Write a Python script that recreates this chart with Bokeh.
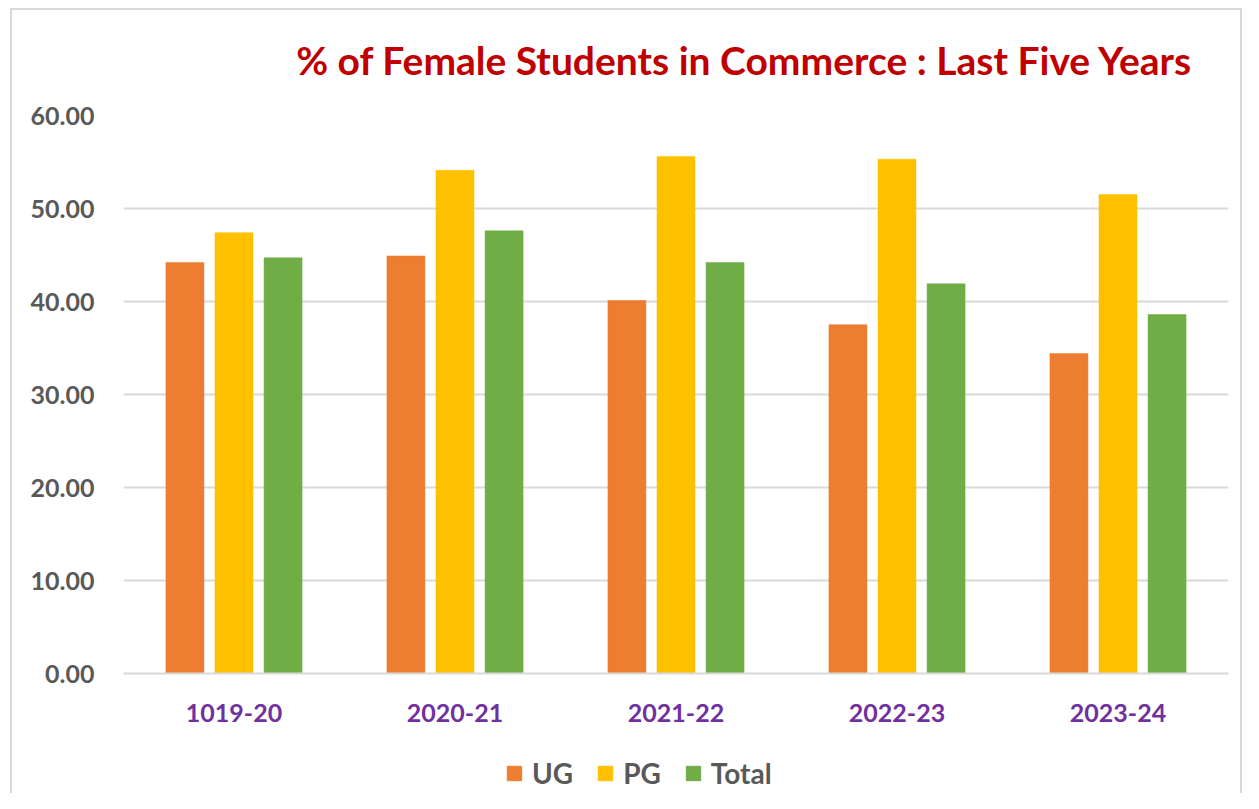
from bokeh.plotting import figure
from bokeh.models import ColumnDataSource, FactorRange, Legend, LegendItem, NumeralTickFormatter, FixedTicker, InlineStyleSheet
from bokeh.layouts import column
from bokeh.transform import dodge
from bokeh.embed import file_html
from bokeh.resources import INLINE

years = ["1019-20", "2020-21", "2021-22", "2022-23", "2023-24"]
ug = [44.2, 44.9, 40.1, 37.5, 34.4]
pg = [47.4, 54.1, 55.6, 55.3, 51.5]
total = [44.7, 47.6, 44.2, 41.9, 38.6]
series_names = ["UG", "PG", "Total"]
colors = ["#ED7D31", "#FFC000", "#70AD47"]
y_ticks = [0, 10, 20, 30, 40, 50, 60]
title_text = "% of Female Students in Commerce : Last Five Years"

FONT = "Lato"
W = 1243

src = ColumnDataSource(dict(year=years, UG=ug, PG=pg, Total=total))

p = figure(x_range=FactorRange(*years), y_range=(0, 60),
           width=W, height=730, output_backend="svg", toolbar_location=None,
           min_border_left=123, min_border_right=15, min_border_top=115, min_border_bottom=57)
p.outline_line_color = None
p.background_fill_color = "white"
p.border_fill_color = "white"

p.title.text = title_text
p.title.align = "right"
p.title.offset = 35
p.title.standoff = 66
p.title.text_font = FONT
p.title.text_font_style = "bold"
p.title.text_font_size = "39px"
p.title.text_color = "#C00000"

renderers = []
offsets = [-0.222, 0.0, 0.222]
for name, col, off in zip(series_names, colors, offsets):
    r = p.vbar(x=dodge("year", off, range=p.x_range), top=name, width=0.172, source=src,
               fill_color=col, line_color=col, line_width=0.5)
    renderers.append(r)

p.xgrid.grid_line_color = None
p.ygrid.grid_line_color = "#d9d9d9"
p.ygrid.grid_line_width = 2
p.yaxis.ticker = FixedTicker(ticks=y_ticks)
p.yaxis.formatter = NumeralTickFormatter(format="0.00")
p.yaxis.axis_line_color = None
p.yaxis.major_tick_line_color = None
p.yaxis.minor_tick_line_color = None
p.yaxis.major_label_text_font = FONT
p.yaxis.major_label_text_font_style = "bold"
p.yaxis.major_label_text_font_size = "25px"
p.yaxis.major_label_text_color = "#595959"
p.yaxis.major_label_standoff = 23

p.xaxis.axis_line_color = "#d9d9d9"
p.xaxis.axis_line_width = 2
p.xaxis.major_tick_line_color = None
p.xaxis.minor_tick_line_color = None
p.xaxis.major_label_text_font = FONT
p.xaxis.major_label_text_font_style = "bold"
p.xaxis.major_label_text_font_size = "25px"
p.xaxis.major_label_text_color = "#7030A0"
p.xaxis.major_label_standoff = 24

# legend strip below the chart
lg = figure(x_range=(0, W), y_range=(0, 63), width=W, height=63,
            output_backend="svg", toolbar_location=None,
            x_axis_type=None, y_axis_type=None,
            min_border_left=0, min_border_right=0, min_border_top=0, min_border_bottom=0)
lg.outline_line_color = None
lg.xgrid.grid_line_color = None
lg.ygrid.grid_line_color = None
lg.border_fill_color = "white"
lg.background_fill_color = "white"
dummies = [lg.vbar(x=[-500], top=[-500], bottom=[-501], width=1, fill_color=c, line_color=c) for c in colors]
legend = Legend(items=[LegendItem(label=n, renderers=[r]) for n, r in zip(series_names, dummies)],
                orientation="horizontal", location=(382, 3),
                glyph_width=18, glyph_height=18, label_standoff=9, spacing=23,
                padding=0, margin=0, border_line_color=None, background_fill_alpha=0,
                label_text_font=FONT, label_text_font_style="bold",
                label_text_font_size="28px", label_text_color="#595959")
lg.add_layout(legend, "center")

layout = column(p, lg, spacing=0)
layout.stylesheets = [InlineStyleSheet(css=(
    ":host { position: relative; }"
    ":host::after { content: ''; position: absolute; left: 10px; top: 8px; right: 1px; bottom: 0px;"
    " border: 2px solid #d9d9d9; border-bottom: none; pointer-events: none; }"))]
open("out.html", "w").write(file_html(layout, INLINE))
